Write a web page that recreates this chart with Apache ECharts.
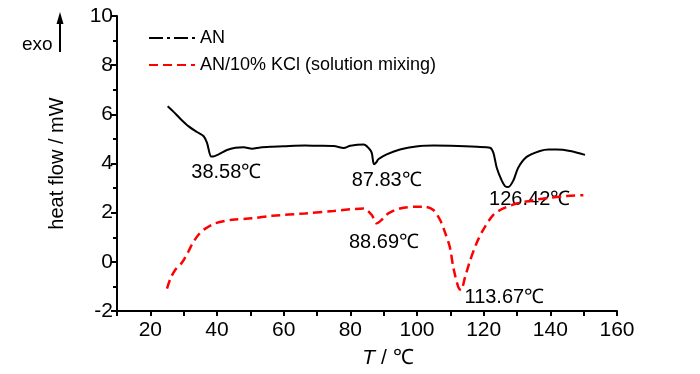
<!DOCTYPE html>
<html>
<head>
<meta charset="utf-8">
<script src="https://cdn.jsdelivr.net/npm/echarts@6/dist/echarts.min.js"></script>
<style>
html,body{margin:0;padding:0;background:#fff;}
#chart{width:700px;height:374px;}
</style>
</head>
<body>
<div id="chart"></div>
<script>
// ---- data ----
var seriesNames = ['AN', 'AN/10% KCl (solution mixing)'];

var anTemp = [25.2, 27, 29, 31.5, 34, 36.0, 37.0, 38.3, 39.3, 40.5, 43.0, 45.5, 48, 50.5, 53, 56.5, 60, 66.4, 70, 75, 78, 80, 84, 85.4, 86.4, 87.1, 87.8, 88.4, 90.9, 94.9, 100.9, 105, 110, 118, 121.9, 122.9, 123.9, 125.4, 126.4, 127.4, 128.9, 130.4, 132.9, 136.9, 139.5, 141.9, 145.9, 150.4];
var anHeat = [6.33, 6.10, 5.82, 5.51, 5.28, 5.11, 4.84, 4.28, 4.30, 4.37, 4.55, 4.64, 4.66, 4.60, 4.65, 4.68, 4.70, 4.73, 4.72, 4.71, 4.63, 4.72, 4.77, 4.64, 4.44, 3.97, 4.05, 4.17, 4.37, 4.57, 4.71, 4.73, 4.72, 4.68, 4.64, 4.44, 3.84, 3.31, 3.08, 3.04, 3.31, 3.84, 4.27, 4.51, 4.57, 4.57, 4.51, 4.35];

var kclTemp = [25.0, 26.0, 27.5, 29.5, 31.5, 32.5, 34.5, 36.5, 39.5, 44.5, 50.5, 56.5, 66.4, 75, 84, 86.4, 87.9, 89.4, 91.4, 94.9, 99.9, 102.4, 104.9, 106.9, 108.4, 109.9, 110.9, 112.4, 113.2, 114.4, 115.9, 117.9, 119.9, 122.9, 125.9, 129.9, 134.9, 139.9, 144.9, 149.9];
var kclHeat = [-1.09, -0.69, -0.32, -0.03, 0.44, 0.71, 1.11, 1.35, 1.57, 1.71, 1.77, 1.87, 1.97, 2.07, 2.17, 1.91, 1.57, 1.71, 1.97, 2.17, 2.24, 2.24, 2.11, 1.71, 1.20, 0.57, -0.23, -1.03, -1.15, -0.63, 0.04, 0.77, 1.31, 1.91, 2.17, 2.37, 2.51, 2.61, 2.68, 2.71];

var annText = ['38.58℃', '87.83℃', '126.42℃', '88.69℃', '113.67℃'];
var annTemp = [42.8, 90.9, 133.8, 90.1, 126.2];
var annHeat = [3.64, 3.32, 2.52, 0.80, -1.44];

var xTickLabels = [20, 40, 60, 80, 100, 120, 140, 160];
var yTickLabels = [-2, 0, 2, 4, 6, 8, 10];

// ---- build ----
function zip(a, b) { return a.map(function (v, i) { return [v, b[i]]; }); }
var FONT = "'Liberation Sans', Arial, sans-serif";

var chart = echarts.init(document.getElementById('chart'), null, {renderer: 'canvas'});
chart.setOption({
  animation: false,
  backgroundColor: '#ffffff',
  textStyle: {fontFamily: FONT},
  grid: {left: 117, right: 83, top: 16, bottom: 58, containLabel: false},
  legend: {
    left: 143, top: 24, orient: 'vertical', itemGap: 9,
    itemWidth: 46, itemHeight: 16,
    textStyle: {fontSize: 18, color: '#000', fontFamily: FONT},
    data: [
      {name: seriesNames[0], itemStyle: {opacity: 0}, lineStyle: {type: [14, 4, 3, 4], width: 2, color: '#000', opacity: 1}},
      {name: seriesNames[1], itemStyle: {opacity: 0}, lineStyle: {type: [9, 5], width: 2, color: '#ff0000', opacity: 1}}
    ]
  },
  xAxis: {
    type: 'value', min: 10, max: 160, interval: 10,
    name: '{i|T} / ℃', nameLocation: 'middle', nameGap: 37,
    nameTextStyle: {fontSize: 21, color: '#000', padding: [0, 0, 0, 42],
      rich: {i: {fontStyle: 'italic', fontSize: 21, color: '#000', fontFamily: FONT}}},
    axisLine: {show: true, onZero: false, lineStyle: {color: '#000', width: 2}},
    axisTick: {show: true, length: 5, lineStyle: {color: '#000', width: 2}},
    splitLine: {show: false},
    axisLabel: {fontSize: 21, color: '#000', margin: 9,
      formatter: function (v) { return xTickLabels.indexOf(v) >= 0 ? String(v) : ''; }}
  },
  yAxis: {
    type: 'value', min: -2, max: 10, interval: 2,
    name: 'heat flow / mW', nameLocation: 'middle', nameGap: 50,
    nameTextStyle: {fontSize: 20, color: '#000'},
    axisLine: {show: true, onZero: false, lineStyle: {color: '#000', width: 2}},
    axisTick: {show: true, length: 6, lineStyle: {color: '#000', width: 2}},
    minorTick: {show: true, splitNumber: 2, length: 4, lineStyle: {color: '#000', width: 2}},
    splitLine: {show: false},
    axisLabel: {fontSize: 21, color: '#000', margin: 4,
      formatter: function (v) { return yTickLabels.indexOf(v) >= 0 ? String(v) : ''; }}
  },
  series: [
    {
      name: seriesNames[0], type: 'line', data: zip(anTemp, anHeat),
      symbol: 'none', showSymbol: false, smooth: 0.3, silent: true,
      lineStyle: {color: '#000', width: 2}, itemStyle: {color: '#000'}
    },
    {
      name: seriesNames[1], type: 'line', data: zip(kclTemp, kclHeat),
      symbol: 'none', showSymbol: false, smooth: 0.3, silent: true,
      lineStyle: {color: '#ff0000', width: 2.5, type: [9, 5]}, itemStyle: {color: '#ff0000'}
    },
    {
      name: 'annotations', type: 'scatter', silent: true,
      data: annText.map(function (t, i) { return {value: [annTemp[i], annHeat[i]], name: t}; }),
      symbolSize: 0, itemStyle: {color: '#000', opacity: 1},
      label: {show: true, position: 'inside', formatter: function (p) { return p.name; },
        fontSize: 20, color: '#000', fontFamily: FONT,
        textBorderWidth: 0, textBorderColor: 'transparent'}
    }
  ],
  graphic: [
    {type: 'text', left: 22, top: 35, style: {text: 'exo', fontSize: 19, fill: '#000', font: "19px " + FONT}},
    {type: 'line', shape: {x1: 60, y1: 52, x2: 60, y2: 20}, style: {stroke: '#000', lineWidth: 2}},
    {type: 'polygon', shape: {points: [[60, 12], [56.5, 24], [63.5, 24]]}, style: {fill: '#000'}}
  ]
});
</script>
</body>
</html>
